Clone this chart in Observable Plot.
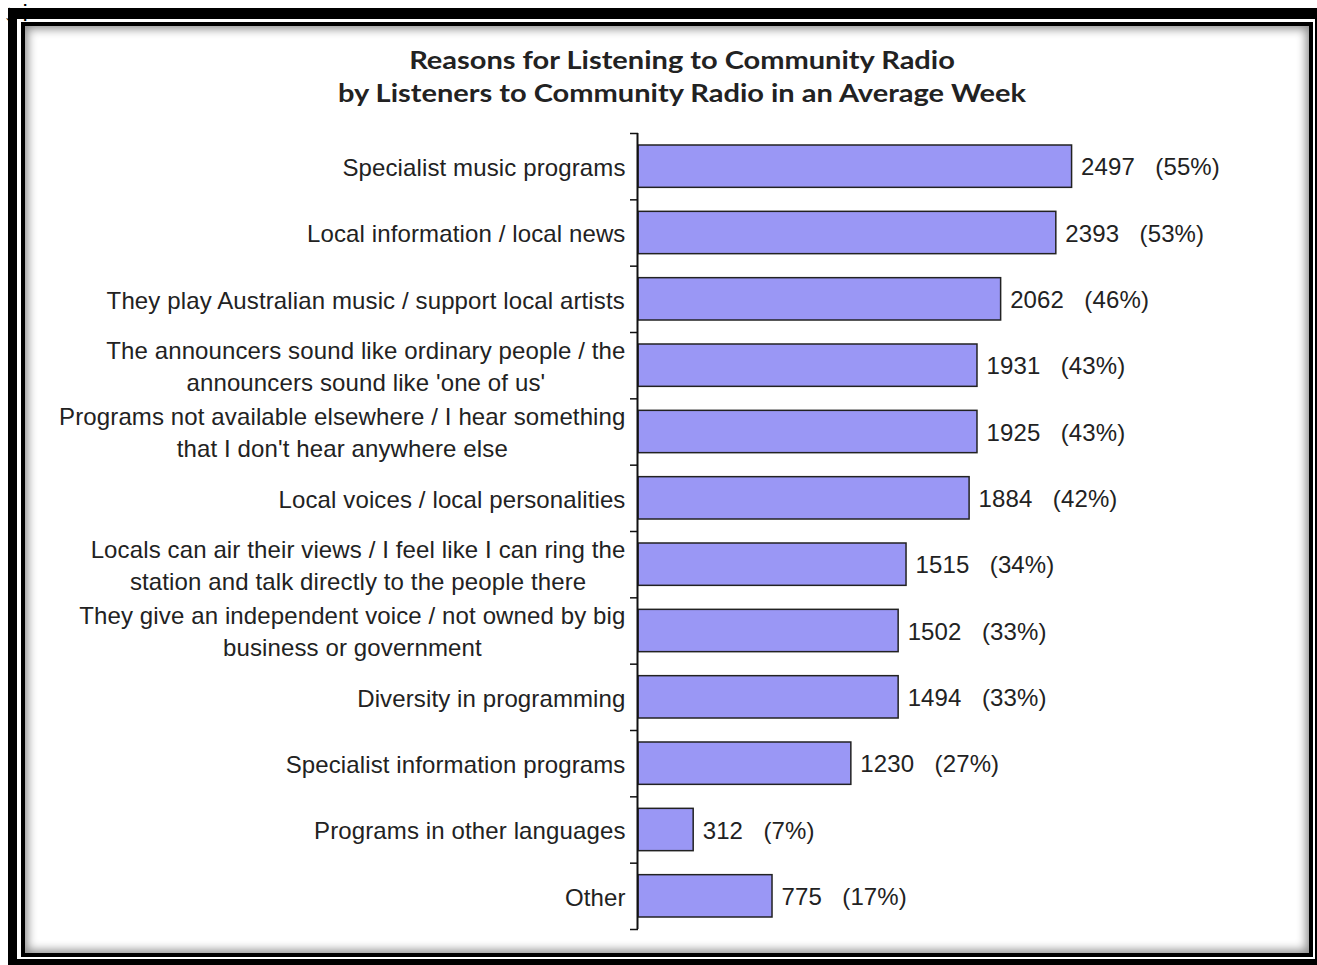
<!DOCTYPE html>
<html>
<head>
<meta charset="utf-8">
<script src="https://cdn.jsdelivr.net/npm/d3@7"></script>
<script src="https://cdn.jsdelivr.net/npm/@observablehq/plot@0.6"></script>
<style>
  html, body { margin: 0; padding: 0; background: #fff; overflow: hidden; width: 1317px; height: 965px; }
  .abs { position: absolute; }
  #title { left: 282px; top: 43px; width: 800px; text-align: center; font-family: Lato, "Open Sans", sans-serif; font-weight: bold; font-size: 25px; line-height: 33px; color: #222; transform: scaleX(1.16); transform-origin: 400px 0; white-space: nowrap; }
  #chart { left: 0; top: 0; }
</style>
</head>
<body>
<div class="abs" style="left:8px;top:8px;width:1330px;height:980px;background:#000"></div>
<div class="abs" style="left:17px;top:19px;width:1298px;height:940px;background:#fff"></div>
<div class="abs" style="left:21px;top:22px;width:1292px;height:935px;box-sizing:border-box;border:4px solid #000;background:#fff;box-shadow: inset 0 0 10px 3px rgba(0,0,0,0.45)"></div>
<div id="title" class="abs">Reasons for Listening to Community Radio<br>by Listeners to Community Radio in an Average Week</div>
<div id="chart" class="abs"></div>
<script>
const categories = [
  "Specialist music programs",
  "Local information / local news",
  "They play Australian music / support local artists",
  "The announcers sound like ordinary people / the\nannouncers sound like 'one of us'",
  "Programs not available elsewhere / I hear something\nthat I don't hear anywhere else",
  "Local voices / local personalities",
  "Locals can air their views / I feel like I can ring the\nstation and talk directly to the people there",
  "They give an independent voice / not owned by big\nbusiness or government",
  "Diversity in programming",
  "Specialist information programs",
  "Programs in other languages",
  "Other"
];
const counts = [2497, 2393, 2062, 1931, 1925, 1884, 1515, 1502, 1494, 1230, 312, 775];
const percents = [55, 53, 46, 43, 43, 42, 34, 33, 33, 27, 7, 17];

const rows = categories.map((c, i) => ({label: c, count: counts[i], pct: percents[i], i}));

const LS = 0.12;
const FONT = "24px 'Liberation Sans', Arial, sans-serif";
const ctx = document.createElement("canvas").getContext("2d");
ctx.font = FONT;
const lineWidth = l => ctx.measureText(l).width + LS * l.length;
const blockWidth = s => Math.max(...s.split("\n").map(lineWidth));

const labelMarks = rows.map(r => Plot.text([r], {
  x: 0, y: d => d.i + 0.5, text: "label",
  textAnchor: "middle", lineAnchor: "middle", lineHeight: 1.33,
  dx: -13 - blockWidth(r.label) / 2, dy: -1,
  fill: "#222"
}));

const chart = Plot.plot({
  width: 1317,
  height: 965,
  marginLeft: 638,
  marginRight: 206,
  marginTop: 133,
  marginBottom: 36,
  style: {background: "transparent", fontFamily: "'Liberation Sans', Arial, sans-serif", fontSize: "24px", letterSpacing: LS + "px"},
  x: {domain: [0, 60], axis: null},
  y: {domain: [0, 12], reverse: true, axis: null},
  marks: [
    Plot.rectX(rows, {
      x1: 0, x2: "pct", y1: "i", y2: d => d.i + 1,
      insetTop: 12, insetBottom: 12,
      fill: "#9a97f5", stroke: "#222", strokeWidth: 1.5
    }),
    Plot.axisY(d3.range(0, categories.length + 1), {
      anchor: "left", tickSize: 8, tickFormat: () => "", stroke: "#111", strokeWidth: 1.5
    }),
    Plot.ruleX([0], {stroke: "#111", strokeWidth: 2, dx: -1}),
    Plot.text(rows, {
      x: "pct", y: d => d.i + 0.5,
      text: d => `${d.count}\u00a0\u00a0\u00a0(${d.pct}%)`,
      textAnchor: "start", dx: 9, dy: 1, fill: "#222"
    }),
    ...labelMarks
  ]
});
document.getElementById("chart").appendChild(chart);
</script>
</body>
</html>
